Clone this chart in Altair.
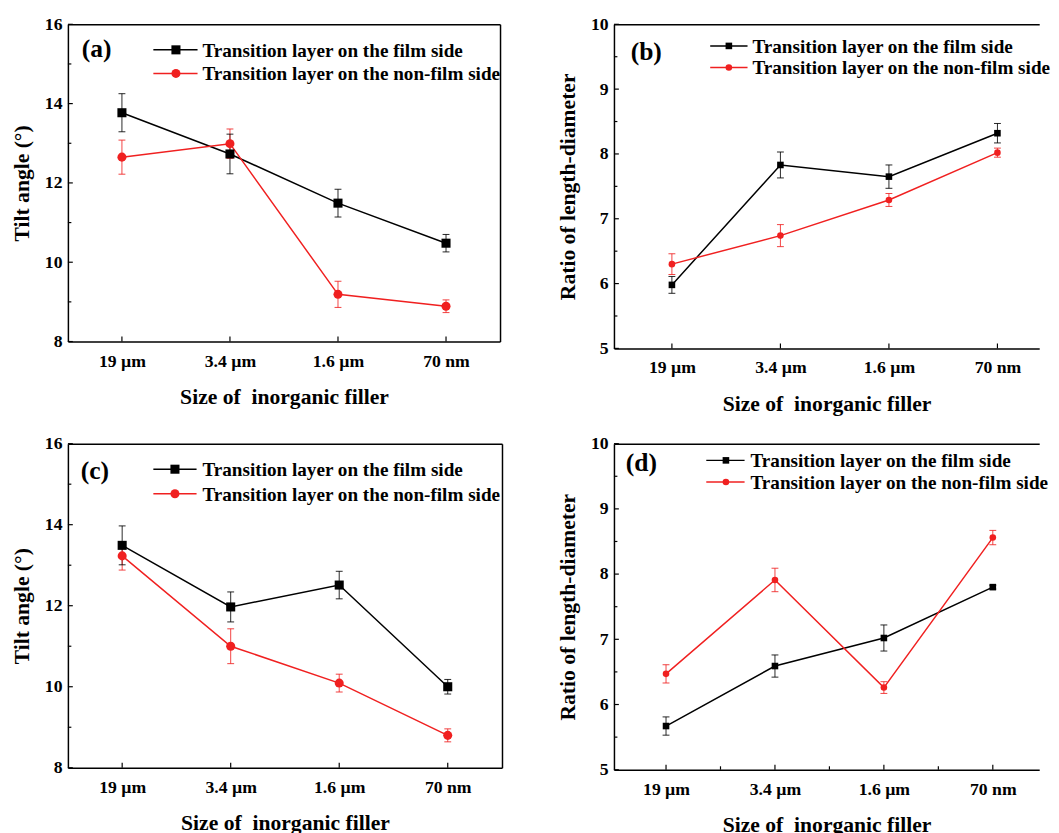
import altair as alt
import pandas as pd

# ---------------- data ----------------
categories = ["19 µm", "3.4 µm", "1.6 µm", "70 nm"]
series_names = ["Transition layer on the film side", "Transition layer on the non-film side"]

a_film = [13.77, 12.73, 11.49, 10.48]
a_film_err = [0.48, 0.50, 0.35, 0.22]
a_non = [12.65, 12.99, 9.19, 8.89]
a_non_err = [0.43, 0.37, 0.33, 0.16]

b_film = [5.98, 7.83, 7.65, 8.32]
b_film_err = [0.13, 0.20, 0.18, 0.15]
b_non = [6.30, 6.74, 7.29, 8.02]
b_non_err = [0.16, 0.17, 0.10, 0.07]

c_film = [13.49, 11.97, 12.51, 10.00]
c_film_err = [0.48, 0.37, 0.34, 0.18]
c_non = [13.23, 11.00, 10.09, 8.80]
c_non_err = [0.35, 0.43, 0.22, 0.16]

d_film = [5.67, 6.59, 7.02, 7.80]
d_film_err = [0.14, 0.17, 0.20, 0.03]
d_non = [6.47, 7.91, 6.26, 8.56]
d_non_err = [0.14, 0.18, 0.09, 0.11]

tilt_major = [8, 10, 12, 14, 16]
tilt_minor = [9, 11, 13, 15]
ratio_major = [5, 6, 7, 8, 9, 10]
ratio_minor = [5.5, 6.5, 7.5, 8.5, 9.5]

BLACK = "#000000"
RED = "#F02020"
FONT = "Liberation Serif"
XTITLE = "Size of \u00a0inorganic filler"

label_expr = "[" + ",".join("'%s'" % c for c in categories) + "][datum.value]"


def make_df(film, film_err, non, non_err):
    rows = []
    for name, vals, errs in [(series_names[0], film, film_err), (series_names[1], non, non_err)]:
        for i, (v, e) in enumerate(zip(vals, errs)):
            rows.append({"idx": i, "cat": categories[i], "series": name,
                         "value": v, "lo": v - e, "hi": v + e})
    return pd.DataFrame(rows)


def panel(tag, film, film_err, non, non_err, ydom, ymajor, yminor, ytitle,
          width, height, xdom, big, leg, xminor, right_frame):
    df = make_df(film, film_err, non, non_err)
    xs = alt.Scale(domain=xdom, nice=False, zero=False)
    ys = alt.Scale(domain=ydom, nice=False, zero=False)
    col = alt.Color("series:N", scale=alt.Scale(domain=series_names, range=[BLACK, RED]), legend=None)
    shp = alt.Shape("series:N", scale=alt.Scale(domain=series_names, range=["square", "circle"]), legend=None)
    msize = 85 if big else 45
    capsize = 49

    base = alt.Chart(df)
    xq = alt.X("idx:Q", scale=xs, axis=None)

    lines = base.mark_line(strokeWidth=1.5).encode(
        x=alt.X("idx:Q", scale=xs, title=XTITLE,
                axis=alt.Axis(values=[0, 1, 2, 3], labelExpr=label_expr, tickSize=0,
                              grid=False, orient="bottom", labelPadding=11, titlePadding=17)),
        y=alt.Y("value:Q", scale=ys, title=ytitle,
                axis=alt.Axis(values=ymajor, tickSize=0, grid=False, orient="left",
                              labelPadding=6, titlePadding=11)),
        color=col,
    )
    err = base.mark_rule(strokeWidth=1, opacity=0.85).encode(
        x=xq, y=alt.Y("lo:Q", scale=ys, axis=None), y2="hi:Q", color=col)
    cap_lo = base.mark_point(shape="stroke", size=capsize, strokeWidth=1, opacity=0.85).encode(
        x=xq, y=alt.Y("lo:Q", scale=ys, axis=None), color=col)
    cap_hi = base.mark_point(shape="stroke", size=capsize, strokeWidth=1, opacity=0.85).encode(
        x=xq, y=alt.Y("hi:Q", scale=ys, axis=None), color=col)
    pts = base.mark_point(filled=True, size=msize, opacity=1).encode(
        x=xq, y=alt.Y("value:Q", scale=ys, axis=None), color=col, shape=shp)

    # frame axes (top / right)
    top_axis = base.mark_point(opacity=0).encode(
        x=alt.X("idx:Q", scale=xs, axis=alt.Axis(orient="top", labels=False, ticks=False,
                                                 grid=False, title=None)),
        y=alt.Y("value:Q", scale=ys, axis=None))
    layers = [lines, err, cap_lo, cap_hi, pts, top_axis]
    if right_frame:
        right_axis = base.mark_point(opacity=0).encode(
            x=xq,
            y=alt.Y("value:Q", scale=ys, axis=alt.Axis(orient="right", labels=False, ticks=False,
                                                      grid=False, title=None)))
        layers.append(right_axis)

    # inward ticks
    ymaj = alt.Chart(pd.DataFrame({"v": ymajor})).mark_rule(color=BLACK, strokeWidth=1.2).encode(
        y=alt.Y("v:Q", scale=ys, axis=None), x=alt.value(0), x2=alt.value(5))
    ymin = alt.Chart(pd.DataFrame({"v": yminor})).mark_rule(color=BLACK, strokeWidth=1.2).encode(
        y=alt.Y("v:Q", scale=ys, axis=None), x=alt.value(0), x2=alt.value(3.5))
    xmaj = alt.Chart(pd.DataFrame({"v": [0, 1, 2, 3]})).mark_rule(color=BLACK, strokeWidth=1.2).encode(
        x=alt.X("v:Q", scale=xs, axis=None), y=alt.value(height), y2=alt.value(height - 5))
    layers += [ymaj, ymin, xmaj]
    if xminor:
        xmin = alt.Chart(pd.DataFrame({"v": [0.5, 1.5, 2.5]})).mark_rule(color=BLACK, strokeWidth=1.2).encode(
            x=alt.X("v:Q", scale=xs, axis=None), y=alt.value(height), y2=alt.value(height - 3.5))
        layers.append(xmin)

    # legend + panel tag
    one = alt.Chart(pd.DataFrame({"k": [0]}))
    for name, color, shape, yy in [(series_names[0], BLACK, "square", leg["y1"]),
                                   (series_names[1], RED, "circle", leg["y2"])]:
        layers.append(one.mark_rule(color=color, strokeWidth=1.5).encode(
            x=alt.value(leg["x0"]), x2=alt.value(leg["x1"]), y=alt.value(yy)))
        layers.append(one.mark_point(shape=shape, filled=True, size=msize, color=color, opacity=1).encode(
            x=alt.value(leg["xm"]), y=alt.value(yy)))
        layers.append(one.mark_text(align="left", baseline="middle", font=FONT, fontSize=19.5,
                                    fontWeight="bold", color=BLACK).encode(
            x=alt.value(leg["xt"]), y=alt.value(yy + 1), text=alt.value(name)))
    layers.append(one.mark_text(align="left", baseline="middle", font=FONT, fontSize=26,
                                fontWeight="bold", color=BLACK).encode(
        x=alt.value(leg["lx"]), y=alt.value(leg["ly"]), text=alt.value(tag)))

    return alt.layer(*layers).resolve_axis(x="independent", y="independent").properties(
        width=width, height=height)


pa = panel("(a)", a_film, a_film_err, a_non, a_non_err, [8, 16], tilt_major, tilt_minor,
           "Tilt angle (°)", 440, 323, [-0.5, 3.5], True,
           dict(x0=87, x1=132, xm=110, xt=137, y1=26, y2=50, lx=14, ly=25), False, True)
pb = panel("(b)", b_film, b_film_err, b_non, b_non_err, [5, 10], ratio_major, ratio_minor,
           "Ratio of length-diameter", 433, 330, [-0.534, 3.385], False,
           dict(x0=98, x1=136, xm=117, xt=141, y1=22, y2=44, lx=17, ly=28), False, False)
pc = panel("(c)", c_film, c_film_err, c_non, c_non_err, [8, 16], tilt_major, tilt_minor,
           "Tilt angle (°)", 442, 330, [-0.5, 3.5], True,
           dict(x0=87, x1=131, xm=109, xt=137, y1=26, y2=51, lx=13, ly=28), False, True)
pd_ = panel("(d)", d_film, d_film_err, d_non, d_non_err, [5, 10], ratio_major, ratio_minor,
            "Ratio of length-diameter", 433, 332, [-0.478, 3.426], False,
            dict(x0=94, x1=133, xm=114, xt=139, y1=17, y2=39, lx=12, ly=20), True, False)

chart = alt.concat(pa, pb, pc, pd_, columns=2, bounds="flush",
                   spacing={"row": 97, "column": 114}).properties(
    padding={"left": 3, "top": 0, "right": 0, "bottom": 0},
    background="white",
).configure_view(stroke=None).configure_axis(
    domainColor=BLACK, domainWidth=1.5,
    labelFont=FONT, labelFontSize=18, labelFontWeight="bold", labelColor=BLACK,
    titleFont=FONT, titleFontSize=22, titleFontWeight="bold", titleColor=BLACK,
)

chart.save("out.html", embed_options={"renderer": "svg", "actions": False})
